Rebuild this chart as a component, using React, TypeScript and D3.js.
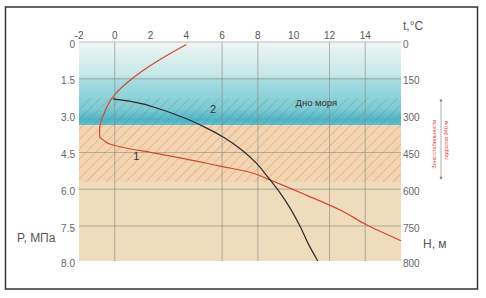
import React from 'react'
import * as d3 from 'd3'

// temperature axis (top) and depth / pressure axes (right / left)
const tempTicks = [-2, 0, 2, 4, 6, 8, 10, 12, 14]
const depthTicks = [0, 150, 300, 450, 600, 750, 800]
const pressureLabels = ['0', '1.5', '3.0', '4.5', '6.0', '7.5', '8.0']
const gridTemps = [0, 6, 8, 12, 14]
const gridDepths = [150, 450, 600, 750]

// sea floor and hydrate stability zone, m
const seaFloor = 340
const zoneTop = 230
const zoneBottom = 570

// curve 1: temperature profile [t, depth]
const curve1: [number, number][] = [
  [4.0, 10], [2.6, 68], [1.5, 120], [0.75, 162], [0.05, 210], [-0.3, 245],
  [-0.65, 300], [-0.85, 355], [-0.85, 385], [-0.6, 402], [-0.2, 418], [0.75, 434],
  [2.0, 450], [3.8, 474], [5.7, 503], [7.6, 532], [8.7, 563], [10.7, 624],
  [12.6, 685], [14.1, 746], [16.0, 771],
]

// curve 2: hydrate equilibrium [t, depth]
const curve2: [number, number][] = [
  [-0.1, 232], [1.1, 245], [2.5, 273], [3.9, 310], [5.0, 346], [6.15, 391],
  [7.1, 440], [7.9, 493], [8.55, 550], [9.2, 611], [9.8, 677], [10.35, 750],
  [10.85, 777], [11.35, 800],
]

const font = '"Liberation Sans", Arial, sans-serif'

function App() {
  const width = 486
  const height = 298

  const x = d3.scaleLinear().domain([-2, 16]).range([79, 401])
  const y = d3.scaleLinear().domain([0, 750, 800]).range([42, 226, 261])

  const line = d3.line<[number, number]>()
    .x(d => x(d[0]))
    .y(d => y(d[1]))
    .curve(d3.curveMonotoneY)

  const x0 = x(-2)
  const x1 = x(16)
  const pw = x1 - x0

  return (
    <svg width={width} height={height} style={{ position: 'absolute', left: 0, top: 0 }}
      fontFamily={font}>
      <defs>
        <linearGradient id="water" x1="0" y1="0" x2="0" y2="1">
          <stop offset="0" stopColor="#eef6f5" />
          <stop offset="0.4" stopColor="#c6e6e8" />
          <stop offset="0.45" stopColor="#a9dce1" />
          <stop offset="0.8" stopColor="#7ccbd5" />
          <stop offset="0.93" stopColor="#4db6c6" />
          <stop offset="1" stopColor="#63c0cc" />
        </linearGradient>
        <pattern id="hatch" width="7" height="7" patternUnits="userSpaceOnUse"
          patternTransform="rotate(45)">
          <line x1="0" y1="0" x2="0" y2="7" stroke="rgba(130,95,70,0.5)" strokeWidth="0.9" />
        </pattern>
      </defs>

      <rect x={0} y={0} width={width} height={height} fill="#fff" />
      <rect x={5.5} y={7} width={472} height={282} fill="none" stroke="#333" strokeWidth={1.5} />

      {/* layers */}
      <rect x={x0} y={y(0)} width={pw} height={y(seaFloor) - y(0)} fill="url(#water)" />
      <rect x={x0} y={y(seaFloor)} width={pw} height={y(800) - y(seaFloor)} fill="#efdcbd" />
      <rect x={x0} y={y(seaFloor)} width={pw} height={y(zoneBottom) - y(seaFloor)} fill="#f5d5b1" />
      <rect x={x0} y={y(zoneTop)} width={pw} height={y(zoneBottom) - y(zoneTop)} fill="url(#hatch)" />

      {/* grid */}
      <line x1={x0} x2={x1} y1={y(0)} y2={y(0)} stroke="#bbb" strokeWidth={1} />
      {gridDepths.map(d => (
        <line key={'h' + d} x1={x0} x2={x1} y1={y(d)} y2={y(d)} stroke="#8a8a80" strokeWidth={0.8} opacity={0.8} />
      ))}
      {gridTemps.map(t => (
        <line key={'v' + t} x1={x(t)} x2={x(t)} y1={y(0)} y2={y(800)} stroke="#8a8a80" strokeWidth={0.8} opacity={0.8} />
      ))}

      {/* curves */}
      <path d={line(curve1) ?? ''} fill="none" stroke="#d8462e" strokeWidth={1.2} />
      <path d={line(curve2) ?? ''} fill="none" stroke="#2b2b2b" strokeWidth={1.2} />

      <text x={x(5.5)} y={y(290)} fontSize={11} fill="#333" textAnchor="middle">2</text>
      <text x={x(1.2)} y={y(480)} fontSize={11} fill="#333" textAnchor="middle">1</text>
      <text x={x(10.1)} y={y(260)} fontSize={9.5} fill="#333">Дно моря</text>

      {/* top axis */}
      {tempTicks.map(t => (
        <text key={'t' + t} x={x(t)} y={39} fontSize={10} fill="#555" textAnchor="middle">{t}</text>
      ))}
      <text x={x(16) + 2} y={30} fontSize={12} fill="#555">t,°C</text>

      {/* left pressure axis */}
      {depthTicks.map((d, i) => (
        <text key={'p' + d} x={75} y={y(d) + 3} fontSize={10} fill="#666" textAnchor="end"
          dominantBaseline="middle">{pressureLabels[i]}</text>
      ))}
      <text x={17} y={242} fontSize={12} fill="#555">P, МПа</text>

      {/* right depth axis */}
      {depthTicks.map(d => (
        <text key={'d' + d} x={403} y={y(d) + 3} fontSize={10} fill="#666"
          dominantBaseline="middle">{d}</text>
      ))}
      <text x={423} y={248} fontSize={12} fill="#555">Н, м</text>

      {/* hydrate stability zone bracket */}
      <line x1={441} x2={441} y1={y(zoneTop) + 2} y2={y(zoneBottom) - 4} stroke="#999" strokeWidth={0.8} />
      <circle cx={441} cy={y(zoneTop) + 2} r={1.3} fill="#888" />
      <circle cx={441} cy={y(zoneBottom) - 4} r={1.3} fill="#888" />
      <text transform={`translate(436,${(y(zoneTop) + y(zoneBottom)) / 2 + 4}) rotate(-90)`}
        fontSize={5.5} fill="#e0403a" textAnchor="middle">Зона стабильности</text>
      <text transform={`translate(448,${(y(zoneTop) + y(zoneBottom)) / 2}) rotate(-90)`}
        fontSize={5.5} fill="#e0403a" textAnchor="middle">гидратов 340 м</text>
    </svg>
  )
}

export default App
